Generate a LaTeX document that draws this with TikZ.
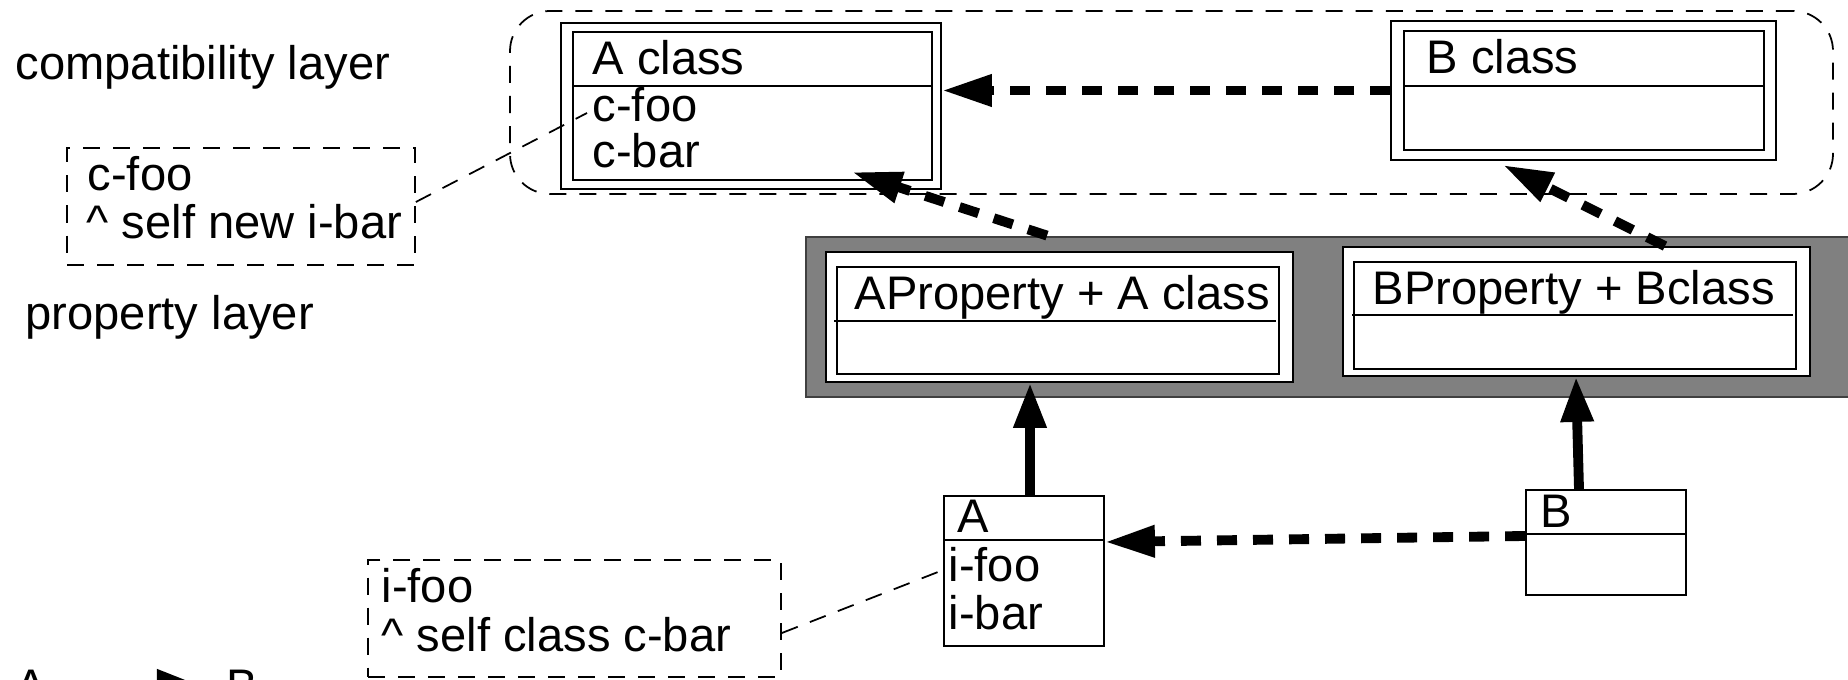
\documentclass[tikz,border=0pt]{standalone}
\usepackage{fontspec}
\setmainfont{Liberation Sans}
\usetikzlibrary{arrows.meta,fit}

\tikzset{
  txt/.style={anchor=base west, inner sep=0pt, font=\fontsize{13.4pt}{16pt}\selectfont},
  frame/.style={draw, line width=0.5pt, inner sep=0pt},
  note/.style={draw, line width=0.5pt, inner sep=0pt, dash pattern=on 0.17cm off 0.13cm},
  link/.style={line width=0.5pt, dash pattern=on 0.17cm off 0.13cm},
  uses/.style={line width=2.8pt, dash pattern=on 0.2cm off 0.16cm, -{Triangle[length=0.5cm,width=0.3cm]}},
  inherits/.style={line width=2.8pt, -{Triangle[length=0.45cm,width=0.31cm]}},
}

\begin{document}
\begin{tikzpicture}[x=0.01cm, y=-0.01cm]
  \clip (0,0) rectangle (1848,680);

  % layer labels
  \node[txt] (compat-lbl) at (15,80) {compatibility layer};
  \node[txt] (prop-lbl) at (25,330) {property layer};

  % compatibility layer
  \node[note, rounded corners=0.4cm, fit={(510,11) (1833,194)}] (compat) {};
  \node[frame, fit={(561,23) (941,189)}] (acls) {};
  \node[frame, fit={(573,32) (932,180)}] (acls-in) {};
  \draw[line width=0.5pt] (573,86) -- (932,86);
  \node[txt] (acls-name) at (592,75) {A class};
  \node[txt] (acls-foo) at (592,122) {c-foo};
  \node[txt] (acls-bar) at (592,168) {c-bar};

  \node[frame, fit={(1391,21) (1776,160)}] (bcls) {};
  \node[frame, fit={(1404,31) (1764,150)}] (bcls-in) {};
  \draw[line width=0.5pt] (1404,86) -- (1764,86);
  \node[txt] (bcls-name) at (1426,74) {B class};

  % property layer
  \node[fit={(806,237) (1870,397)}, fill=black!50, draw=black!75, line width=0.8pt, inner sep=0pt] (proplayer) {};
  \node[frame, fill=white, fit={(826,252) (1293,382)}] (aprop) {};
  \node[frame, fit={(837,267) (1279,374)}] (aprop-in) {};
  \draw[line width=0.5pt] (834,321) -- (1276,321);
  \node[txt] (aprop-name) at (854,310) {AProperty + A class};

  \node[frame, fill=white, fit={(1343,247) (1810,376)}] (bprop) {};
  \node[frame, fit={(1354,262) (1796,369)}] (bprop-in) {};
  \draw[line width=0.5pt] (1352,315) -- (1793,315);
  \node[txt] (bprop-name) at (1372,305) {BProperty + Bclass};

  % instance classes
  \node[frame, fit={(944,496) (1104,646)}] (abox) {};
  \draw[line width=0.5pt] (944,540) -- (1104,540);
  \node[txt] (abox-name) at (957,533) {A};
  \node[txt] (abox-foo) at (948,582) {i-foo};
  \node[txt] (abox-bar) at (948,630) {i-bar};

  \node[frame, fit={(1526,490) (1686,595)}] (bbox) {};
  \draw[line width=0.5pt] (1526,534) -- (1686,534);
  \node[txt] (bbox-name) at (1540,528) {B};

  % method notes
  \node[note, fit={(67,148) (415,265)}] (cnote) {};
  \node[txt] (cnote-1) at (87,191) {c-foo};
  \node[txt] (cnote-2) at (86,239) {\textasciicircum{} self new i-bar};

  \node[note, fit={(368,560) (781,677)}] (inote) {};
  \node[txt] (inote-1) at (381,603) {i-foo};
  \node[txt] (inote-2) at (381,652) {\textasciicircum{} self class c-bar};

  % connectors
  \coordinate (acls-tip) at (852,172);
  \coordinate (bcls-tip) at (1503,165);
  \coordinate (cfoo-end) at (587,113);
  \draw[uses] (bcls.west) -- (bcls.west -| acls.east);
  \draw[uses] (proplayer.north -| 1047,0) -- (acls-tip);
  \draw[uses] (bprop.north -| 1665,0) -- (bcls-tip);
  \draw[inherits] (abox.north -| 1030,0) -- (aprop.south -| 1030,0);
  \draw[inherits] (bbox.north -| 1579,0) -- (bprop.south -| 1576,0);
  \draw[uses] (bbox.west |- 0,536) -- (abox.east |- 0,542);
  \draw[link] (cnote.east |- 0,202) -- (cfoo-end);
  \draw[link] (inote.east |- 0,633) -- (abox.west |- 0,570);

  % legend
  \node[txt, anchor=west] (lgA) at (15,686) {A};
  \node[txt, anchor=west] (lgB) at (226,686) {B};
  \draw[inherits, shorten >=0.24cm, shorten <=0.14cm] (lgA.east) -- (lgB.west);
\end{tikzpicture}
\end{document}
